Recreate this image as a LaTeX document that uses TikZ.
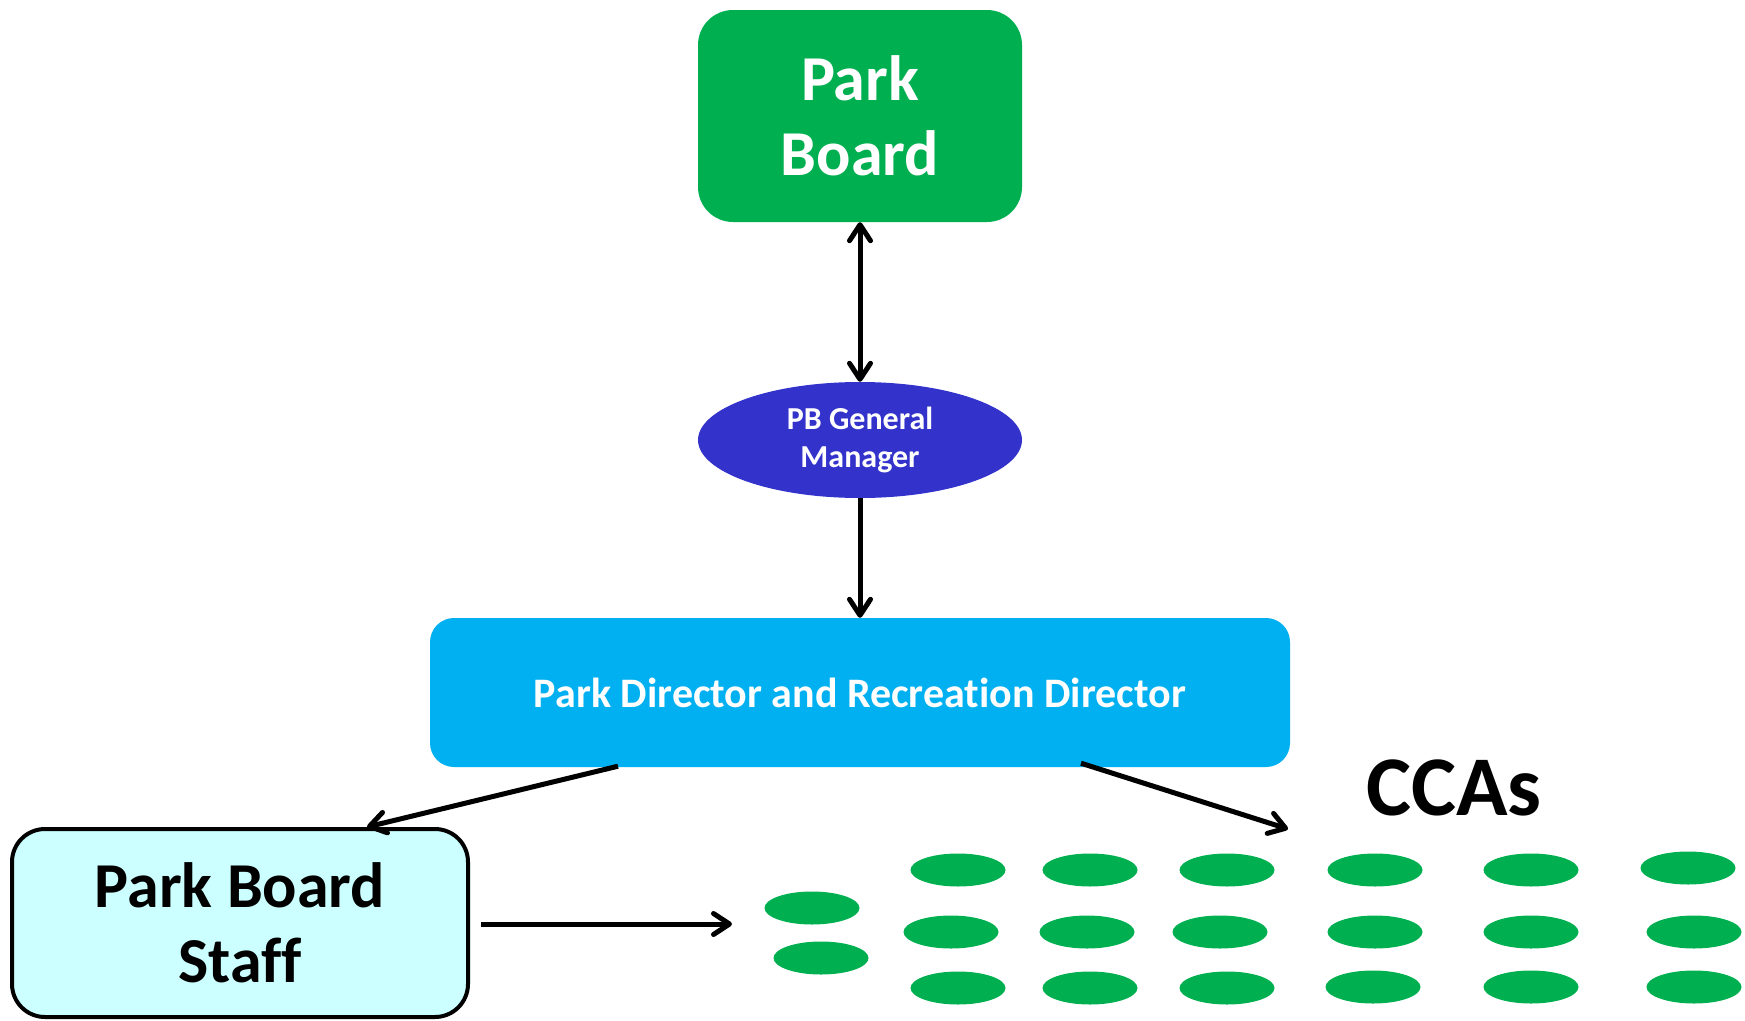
\documentclass[tikz,border=0pt]{standalone}
\usepackage{fontspec}
\setmainfont{Carlito}[Ligatures={NoCommon}]
\usetikzlibrary{arrows.meta,shapes.geometric,calc}
\definecolor{pbgreen}{HTML}{00B050}
\definecolor{gmblue}{HTML}{3333CC}
\definecolor{pdblue}{HTML}{00B0F0}
\definecolor{staffcyan}{HTML}{CCFFFF}
\begin{document}
\begin{tikzpicture}[x=1pt,y=-1pt,
  conn/.style={line width=5pt,-{Straight Barb[length=16pt,width=21pt,round]}},
  conn2/.style={line width=5pt,{Straight Barb[length=16pt,width=21pt,round]}-{Straight Barb[length=16pt,width=21pt,round]}},
  cca/.style={ellipse,fill=pbgreen,minimum width=95pt,minimum height=33pt,inner sep=0pt}]
\useasboundingbox (0,0) rectangle (1745,1020);
\node[fill=pbgreen,rounded corners=35pt,minimum width=324pt,minimum height=212pt,inner sep=0pt,
  align=center,text=white,font=\bfseries\fontsize{64}{75}\selectfont] (pb) at (860,116) {Park\\Board};
\node[ellipse,fill=gmblue,minimum width=324pt,minimum height=116pt,inner sep=0pt,
  align=center,text=white,font=\bfseries\fontsize{32}{38}\selectfont] (gm) at (860,440) {PB General\\Manager};
\node[fill=pdblue,rounded corners=24pt,minimum width=860pt,minimum height=149pt,inner sep=0pt,
  text=white,font=\bfseries\fontsize{42}{48}\selectfont] (pd) at (860,692.5) {Park Director and Recreation Director};
\node[draw=black,line width=4pt,fill=staffcyan,rounded corners=33pt,minimum width=456pt,minimum height=188pt,inner sep=0pt,
  align=center,text=black,font=\bfseries\fontsize{64}{75}\selectfont] (staff) at (240,923) {Park Board\\Staff};
\node[anchor=base,font=\bfseries\fontsize{85}{90}\selectfont,inner sep=0pt] (ccas) at (1454,815) {CCAs};
% CCA ellipses
\foreach \x/\y [count=\i] in {958/870,1090/870,1227/870,1375/870,1531/870,1688/868,
  951/932,1087/932,1220/932,1375/932,1531/932,1694/932,
  958/988,1090/988,1227/988,1373/987,1531/987,1694/987,
  812/908,821/958}
  \node[cca] (e\i) at (\x,\y) {};
\coordinate (ccatip) at (1288,829);
\coordinate (grouptip) at (732,924);
\draw[conn2] (pb.south) -- (gm.north);
\draw[conn] (gm.south) -- (pd.north);
\draw[conn] ($(pd.south)+(-242,-1)$) -- ($(staff.north)+(127,0)$);
\draw[conn] ($(pd.south)+(221,-4)$) -- (ccatip);
\draw[conn] ($(staff.east)+(11,1)$) -- (grouptip);
\end{tikzpicture}
\end{document}
